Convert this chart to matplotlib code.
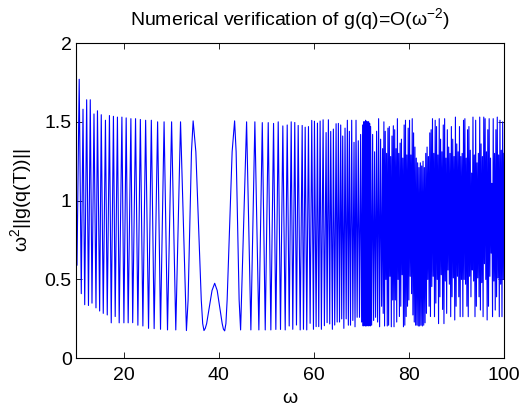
import numpy as np
import matplotlib
matplotlib.use('Agg')
import matplotlib.pyplot as plt

plt.rcParams['font.family'] = ['Liberation Sans', 'DejaVu Sans']
plt.rcParams['mathtext.fontset'] = 'custom'
plt.rcParams['mathtext.rm'] = 'Liberation Sans'
plt.rcParams['mathtext.it'] = 'Liberation Sans'
plt.rcParams['mathtext.default'] = 'regular'

# curve for omega 10 .. 74.5
# (peaks and troughs, plus a few shoulder points on the wide lobes)
omega_read = [
    10.00, 10.21, 10.67, 11.11, 11.47, 11.83, 12.24, 12.62, 13.00, 13.36,
    13.78, 14.20, 14.51, 14.97, 15.31, 15.73, 16.19, 16.57, 17.03, 17.41,
    17.87, 18.24, 18.71, 19.08, 19.65, 20.07, 20.55, 20.97, 21.54, 21.92,
    22.52, 23.01, 23.53, 24.06, 24.64, 25.25, 25.84, 26.43, 27.16, 27.77,
    28.52, 29.24, 30.10, 30.98, 31.98, 33.22,
    33.57, 33.93, 34.28, 34.63, 35.20, 35.77, 36.34, 36.64, 36.91, 37.18,
    37.47, 38.04, 38.60, 39.16, 39.69, 40.21, 40.74, 41.00, 41.26, 41.52,
    41.78, 42.31, 42.83, 43.35, 43.67, 43.98, 44.30, 44.61,
    45.87, 46.77, 47.61, 48.45, 49.17, 49.79, 50.42, 50.97, 51.54, 52.02,
    52.52, 53.00, 53.49, 53.99, 54.41, 54.83, 55.25, 55.58, 56.00, 56.36,
    56.72, 57.14, 57.56, 57.83, 58.19, 58.52, 58.88, 59.23, 59.57, 59.93,
    60.14, 60.49, 60.77, 61.04, 61.33, 61.60, 61.96, 62.23, 62.59, 62.80,
    63.07, 63.35, 63.56, 63.91, 64.12, 64.40, 64.69,
    64.92, 65.17, 65.41, 65.66, 65.87, 66.08, 66.32, 66.57, 66.81, 67.06,
    67.27, 67.48, 67.72, 67.97, 68.21, 68.46, 68.67, 68.88, 69.12, 69.36,
    69.61, 69.85, 70.06, 70.27,
    70.38, 70.48, 70.59, 70.69, 70.80, 70.90, 71.01, 71.11, 71.22, 71.32,
    71.43, 71.53, 71.64, 71.74, 71.85, 71.95,
    72.16, 72.37, 72.58, 72.79, 73.00, 73.21, 73.42, 73.63, 73.84, 74.05,
    74.26, 74.47,
]
g_read = [
    1.18, 0.59, 1.77, 0.41, 1.58, 0.34, 1.64, 0.335, 1.64, 0.35,
    1.55, 0.32, 1.57, 0.30, 1.545, 0.285, 1.51, 0.275, 1.54, 0.225,
    1.535, 0.265, 1.53, 0.225, 1.53, 0.225, 1.525, 0.225, 1.52, 0.226,
    1.52, 0.21, 1.515, 0.205, 1.51, 0.19, 1.51, 0.188, 1.50, 0.184,
    1.50, 0.18, 1.50, 0.18, 1.50, 0.176,
    0.37, 0.84, 1.31, 1.506, 1.31, 0.84, 0.37, 0.22, 0.176, 0.19,
    0.22, 0.326, 0.43, 0.476, 0.43, 0.325, 0.22, 0.185, 0.174, 0.22,
    0.37, 0.84, 1.31, 1.506, 1.31, 0.84, 0.37, 0.18,
    1.50, 0.18, 1.50, 0.18, 1.495, 0.18, 1.495, 0.18, 1.49, 0.183,
    1.50, 0.183, 1.474, 0.18, 1.48, 0.205, 1.50, 0.184, 1.496, 0.211,
    1.477, 0.18, 1.477, 0.184, 1.466, 0.18, 1.47, 0.222, 1.509, 0.184,
    1.504, 0.201, 1.492, 0.201, 1.505, 0.184, 1.513, 0.207, 1.432, 0.226,
    1.513, 0.218, 1.439, 0.184, 1.454, 0.211, 1.488,
    0.23, 1.49, 0.23, 1.48, 0.25, 1.41, 0.19, 1.46, 0.25, 1.51,
    0.21, 1.44, 0.21, 1.51, 0.24, 1.37, 0.20, 1.51, 0.26, 1.38,
    0.26, 1.42, 0.23, 1.48,
    0.205, 1.50, 0.21, 1.50, 0.205, 1.51, 0.205, 1.50, 0.21, 1.50,
    0.205, 1.50, 0.21, 1.49, 0.205, 1.47,
    0.21, 1.42, 0.24, 1.31, 0.26, 1.44, 0.23, 1.52, 0.20, 1.39,
    0.33, 1.33,
]

# dense part, omega 74.6 .. 100: one trough and one peak per cycle
dense_start = 74.6
dense_end = 100.0
dense_peaks = [
    1.50, 1.44, 1.30, 1.46, 1.47, 1.28, 1.41, 1.475, 1.45, 1.33,
    1.52, 1.30, 1.365, 1.39, 1.27, 1.48, 1.51, 1.29, 1.46, 1.51,
    1.29, 1.52, 1.43, 1.34, 1.27, 1.24, 1.21, 1.24, 1.22, 1.25,
    1.21, 1.30, 1.34, 1.28, 1.43, 1.45,
    1.52, 1.30, 1.51, 1.47, 1.29, 1.52, 1.39, 1.31, 1.48, 1.52,
    1.27, 1.45, 1.34, 1.30, 1.47, 1.39, 1.28, 1.53, 1.36, 1.31,
    1.47, 1.28, 1.30, 1.51, 1.52, 1.27, 1.45, 1.47, 1.32, 1.175,
    1.53, 1.29, 1.51, 1.24, 1.30, 1.53, 1.36, 1.28, 1.53, 1.52,
    1.31, 1.45, 1.52, 1.27, 1.11, 1.52, 1.30, 1.45, 1.53, 1.29,
    1.51, 1.32, 1.50, 1.30,
]
dense_troughs = [
    0.285, 0.205, 0.50, 0.205, 0.21, 0.52, 0.20, 0.37, 0.20, 0.37,
    0.23, 0.50, 0.265, 0.33, 0.53, 0.20, 0.21, 0.265, 0.33, 0.37,
    0.52, 0.41, 0.275, 0.23, 0.21, 0.21, 0.205, 0.205, 0.21, 0.205,
    0.21, 0.225, 0.285, 0.50, 0.33, 0.265,
    0.455, 0.52, 0.264, 0.35, 0.50, 0.22, 0.39, 0.53, 0.31, 0.22,
    0.49, 0.285, 0.56, 0.47, 0.264, 0.39, 0.51, 0.243, 0.33, 0.52,
    0.39, 0.264, 0.50, 0.264, 0.50, 0.47, 0.33, 0.264, 0.52, 0.39,
    0.56, 0.49, 0.264, 0.33, 0.51, 0.39, 0.306, 0.48, 0.264, 0.60,
    0.50, 0.243, 0.33, 0.52, 0.667, 0.264, 0.49, 0.306, 0.39, 0.51,
    0.264, 0.47, 0.264, 0.50,
]

omega_dense = np.linspace(dense_start, dense_end, 2 * len(dense_peaks))
g_dense = np.empty(2 * len(dense_peaks))
g_dense[0::2] = dense_troughs
g_dense[1::2] = dense_peaks

omega = np.concatenate([omega_read, omega_dense])
g = np.concatenate([g_read, g_dense])

fig = plt.figure(figsize=(5.26, 4.08), dpi=100)
ax = fig.add_axes([0.1445, 0.1218, 0.8137, 0.7728])
ax.plot(omega, g, color='blue', lw=0.8)

ax.set_xlim(10, 100)
ax.set_ylim(0, 2)
ax.set_xticks([20, 40, 60, 80, 100])
ax.set_yticks([0, 0.5, 1, 1.5, 2])
ax.set_yticklabels(['0', '0.5', '1', '1.5', '2'])
ax.tick_params(direction='in', top=True, right=True, length=4, width=0.6,
               labelsize=14)
ax.tick_params(axis='x', pad=6.5)
ax.tick_params(axis='y', pad=3)
for s in ax.spines.values():
    s.set_linewidth(0.8)

ax.set_title('Numerical verification of g(q)=O(ω$^{-2}$)', fontsize=14, pad=13)
ax.set_xlabel('ω', fontsize=14, labelpad=4)
ax.set_ylabel('ω$^2$||g(q(T))||', fontsize=14, labelpad=8)

fig.savefig('out.png', dpi=100)
